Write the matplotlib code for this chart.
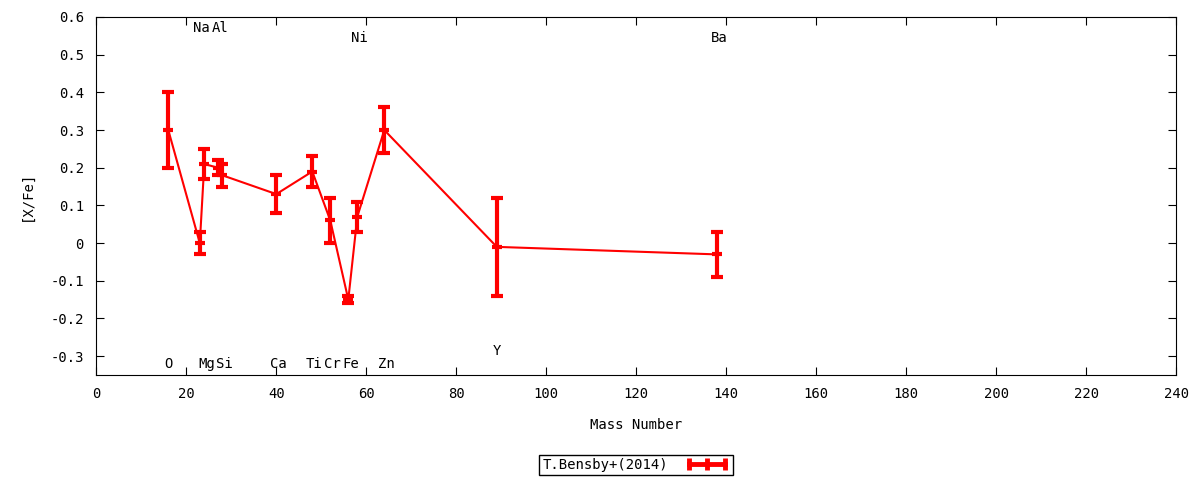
import matplotlib
matplotlib.use('Agg')
import matplotlib.pyplot as plt
from matplotlib.lines import Line2D

# abundance ratios vs mass number
elements = ['O', 'Na', 'Mg', 'Al', 'Si', 'Ca', 'Ti', 'Cr', 'Fe', 'Ni', 'Zn', 'Y', 'Ba']
mass = [16, 23, 24, 27, 28, 40, 48, 52, 56, 58, 64, 89, 138]
xfe = [0.30, 0.00, 0.21, 0.20, 0.18, 0.13, 0.19, 0.06, -0.15, 0.07, 0.30, -0.01, -0.03]
err = [0.10, 0.03, 0.04, 0.02, 0.03, 0.05, 0.04, 0.06, 0.01, 0.04, 0.06, 0.13, 0.06]
label_y = [-0.32, 0.57, -0.32, 0.57, -0.32, -0.32, -0.32, -0.32, -0.32, 0.545, -0.32, -0.285, 0.545]

plt.rcParams['font.family'] = ['DejaVu Sans Mono']
plt.rcParams['font.size'] = 10

fig = plt.figure(figsize=(12, 4.8), dpi=100)
ax = fig.add_axes([96.3 / 1200, 1 - 375 / 480, (1176.3 - 96.3) / 1200, (375 - 17) / 480])

red = '#ff0000'
ax.errorbar(mass, xfe, yerr=err, color=red, lw=1.5, elinewidth=3,
            capsize=4.5, capthick=3, marker='_', ms=7, mew=3)

for el, m, ly in zip(elements, mass, label_y):
    ax.annotate(el, (m, ly), xytext=(2 * (len(el) - 1), 0), textcoords='offset pixels',
                ha='center', va='center')

ax.set_xlim(0, 240)
ax.set_ylim(-0.35, 0.6)
ax.set_xticks(range(0, 241, 20))
ax.set_yticks([-0.3, -0.2, -0.1, 0, 0.1, 0.2, 0.3, 0.4, 0.5, 0.6])
ax.set_yticklabels(['-0.3', '-0.2', '-0.1', '0', '0.1', '0.2', '0.3', '0.4', '0.5', '0.6'])
ax.tick_params(direction='in', length=6, top=True, right=True, pad=9)
ax.set_xlabel('Mass Number', labelpad=12)
ax.set_ylabel('[X/Fe]', labelpad=12)

# key sample drawn the gnuplot way: horizontal bar with ticks
key = Line2D([], [], color=red, lw=3.5, marker='|', ms=8, mew=3.5)
leg = fig.legend([key], ['T.Bensby+(2014)'], loc='center',
                 bbox_to_anchor=(636 / 1200, 1 - 465 / 480), numpoints=3,
                 markerfirst=False, fancybox=False, edgecolor='black',
                 framealpha=1, handlelength=3.2, borderpad=0.25, handletextpad=1.2)
leg.get_frame().set_linewidth(1)

fig.savefig('out.png', dpi=100)
